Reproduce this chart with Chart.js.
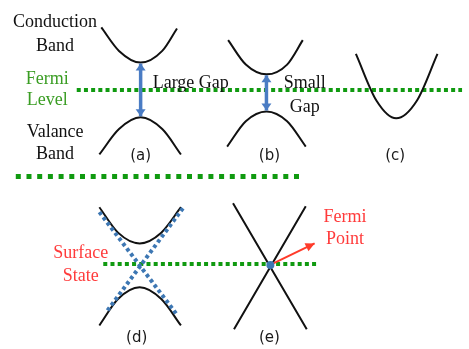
<!DOCTYPE html>
<html>
<head>
<meta charset="utf-8">
<script src="https://cdn.jsdelivr.net/npm/chart.js@4/dist/chart.umd.min.js"></script>
<style>
  html, body { margin: 0; padding: 0; background: #ffffff; }
  #wrap { width: 469px; height: 349px; }
</style>
</head>
<body>
<div id="wrap"><canvas id="c" width="469" height="349"></canvas></div>
<script>
// ---- Diagram data (energy-band sketch, diagram units: x 0..469, y 0..349 downward) ----
const conductionA = [[99,24],[117,48],[139,60],[161,48],[176,25]];
const valenceA    = [[97,154],[117,128],[139,116],[161,128],[180,154]];
const conductionB = [[228,37],[246,62],[267,72],[288,62],[304,37]];
const valenceB    = [[227,146],[246,120],[267,110],[288,120],[307,146]];
const bandC       = [[358,51],[379,99],[399,117],[420,99],[441,51]];
const conductionD = [[97,208],[116,234],[138,245],[160,234],[180,208]];
const valenceD    = [[97,329],[116,302],[138,290],[160,302],[180,329]];
const surfaceD1   = [[97,213],[176,318]];
const surfaceD2   = [[182,209],[105,314]];
const diracE1     = [[233,204],[308,333]];
const diracE2     = [[307,207],[234,333]];
const fermiTop    = [[74,88],[466,88]];
const divider     = [[12,176.5],[305,176.5]];
const fermiBottom = [[101,266],[319,266]];
const gapArrowA   = [[139,61],[139,115]];
const gapArrowB   = [[267,73],[267,109]];
const pointArrowE = [[273,266],[316,245]];
const fermiPoint  = [[271,267]];

const bandLabels    = ['Conduction','Band','Valance','Band'];
const bandLabelPos  = [[52,19],[52,43],[52,131],[52,154]];
const fermiLabels   = ['Fermi','Level'];
const fermiLabelPos = [[44,77],[44,99]];
const gapLabels     = ['Large Gap','Small','Gap'];
const gapLabelPos   = [[190,81],[306,81],[306,106]];
const redLabels     = ['Surface','State','Fermi','Point'];
const redLabelPos   = [[78,255],[78,279],[347,218],[347,241]];
const panelLabels   = ['(a)','(b)','(c)','(d)','(e)'];
const panelLabelPos = [[139,156],[270,156],[398,156],[135,342],[270,342]];

const toXY = arr => arr.map(p => ({x: p[0], y: p[1]}));

const BLACK = '#111111';
const GREEN = '#109a10';
const BLUE_ARROW = '#4a7cc4';
const BLUE_DOT = '#3d77b3';
const RED = '#ff3b2a';

function curve(data, opts) {
  return Object.assign({
    data: toXY(data), showLine: true, pointRadius: 0, fill: false, clip: false,
    borderColor: BLACK, borderWidth: 2, cubicInterpolationMode: 'monotone'
  }, opts || {});
}

const datasets = [
  // on top first
  { data: toXY(fermiPoint), showLine: false, pointRadius: 4, pointBackgroundColor: BLUE_DOT, pointBorderWidth: 0 },
  curve(pointArrowE, { borderColor: RED, borderWidth: 2, arrowEnd: true, arrowColor: RED, arrowLen: 9, arrowW: 9 }),
  curve(gapArrowA, { borderColor: BLUE_ARROW, borderWidth: 3.5, arrowEnd: true, arrowStart: true, arrowColor: BLUE_ARROW, arrowLen: 7, arrowW: 10 }),
  curve(gapArrowB, { borderColor: BLUE_ARROW, borderWidth: 3.5, arrowEnd: true, arrowStart: true, arrowColor: BLUE_ARROW, arrowLen: 7, arrowW: 10 }),
  curve(surfaceD1, { borderColor: BLUE_DOT, borderWidth: 4, borderDash: [3.5, 3] }),
  curve(surfaceD2, { borderColor: BLUE_DOT, borderWidth: 4, borderDash: [3.5, 3] }),
  curve(conductionA), curve(valenceA), curve(conductionB), curve(valenceB), curve(bandC),
  curve(conductionD), curve(valenceD), curve(diracE1), curve(diracE2),
  curve(fermiTop, { borderColor: GREEN, borderWidth: 4, borderDash: [4, 3.2] }),
  curve(fermiBottom, { borderColor: GREEN, borderWidth: 4, borderDash: [4, 3.2] }),
  curve(divider, { borderColor: GREEN, borderWidth: 5, borderDash: [5, 5.7] })
];

const arrowPlugin = {
  id: 'arrowHeads',
  afterDatasetsDraw(chart) {
    const ctx = chart.ctx;
    chart.data.datasets.forEach((ds, i) => {
      if (!ds.arrowEnd && !ds.arrowStart) return;
      const pts = chart.getDatasetMeta(i).data;
      const head = (from, to) => {
        const ang = Math.atan2(to.y - from.y, to.x - from.x);
        const L = ds.arrowLen, W = ds.arrowW / 2;
        ctx.save();
        ctx.translate(to.x, to.y);
        ctx.rotate(ang);
        ctx.beginPath();
        ctx.moveTo(0, 0);
        ctx.lineTo(-L, -W);
        ctx.lineTo(-L, W);
        ctx.closePath();
        ctx.fillStyle = ds.arrowColor;
        ctx.fill();
        ctx.restore();
      };
      if (ds.arrowEnd) head(pts[pts.length - 2], pts[pts.length - 1]);
      if (ds.arrowStart) head(pts[1], pts[0]);
    });
  }
};

const textPlugin = {
  id: 'texts',
  afterDraw(chart) {
    const ctx = chart.ctx;
    const xs = chart.scales.x, ys = chart.scales.y;
    const put = (labels, pos, font, color) => {
      ctx.save();
      ctx.font = font;
      ctx.fillStyle = color;
      ctx.textAlign = 'center';
      ctx.textBaseline = 'middle';
      labels.forEach((t, k) => {
        ctx.fillText(t, xs.getPixelForValue(pos[k][0]), ys.getPixelForValue(pos[k][1]));
      });
      ctx.restore();
    };
    const serif = '18px "Liberation Serif", "DejaVu Serif", serif';
    put(bandLabels, bandLabelPos, serif, '#111111');
    put(fermiLabels, fermiLabelPos, serif, '#3a9d23');
    put(gapLabels, gapLabelPos, serif, '#111111');
    put(redLabels, redLabelPos, serif, '#ff3b3b');
    put(panelLabels, panelLabelPos, '15px "DejaVu Sans", sans-serif', '#1a1a1a');
  }
};

new Chart(document.getElementById('c'), {
  type: 'scatter',
  data: { datasets },
  options: {
    responsive: false,
    animation: false,
    events: [],
    layout: { padding: 0 },
    plugins: { legend: { display: false }, tooltip: { enabled: false } },
    scales: {
      x: { type: 'linear', min: 0, max: 469, display: false },
      y: { type: 'linear', min: 0, max: 349, reverse: true, display: false }
    }
  },
  plugins: [arrowPlugin, textPlugin]
});
</script>
</body>
</html>
